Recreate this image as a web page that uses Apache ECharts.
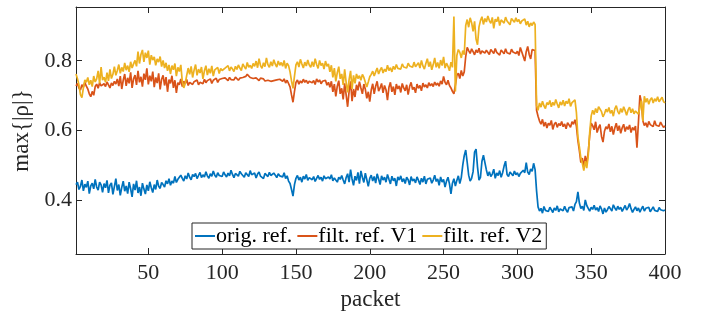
<!DOCTYPE html>
<html>
<head>
<meta charset="utf-8">
<script src="https://cdn.jsdelivr.net/npm/echarts@6/dist/echarts.min.js"></script>
<style>
  html, body { margin: 0; padding: 0; background: #fff; }
  #chart { width: 701px; height: 320px; }
</style>
</head>
<body>
<div id="chart"></div>
<script>
const seriesNames = ['orig. ref.', 'filt. ref. V1', 'filt. ref. V2']
const packetTicks = [50, 100, 150, 200, 250, 300, 350, 400]
const rhoTicks = [0.4, 0.6, 0.8]

// max{|rho|} per packet, packets 1..400
const origRef = [
  0.445,0.452,0.431,0.440,0.458,0.427,0.446,0.437,0.455,0.419,0.441,0.449,0.433,0.460,0.438,0.429,0.452,0.444,0.423,0.448,
  0.436,0.457,0.421,0.443,0.450,0.417,0.439,0.462,0.428,0.445,0.414,0.437,0.455,0.426,0.441,0.419,0.452,0.433,0.410,0.447,
  0.429,0.456,0.421,0.438,0.413,0.449,0.432,0.418,0.444,0.427,0.453,0.436,0.422,0.445,0.431,0.458,0.440,0.434,0.451,0.445,
  0.438,0.456,0.447,0.462,0.443,0.455,0.449,0.468,0.451,0.460,0.457,0.472,0.463,0.455,0.470,0.461,0.478,0.466,0.459,0.474,
  0.468,0.477,0.462,0.471,0.480,0.465,0.473,0.467,0.482,0.470,0.463,0.476,0.469,0.484,0.472,0.466,0.479,0.471,0.475,0.468,
  0.481,0.473,0.467,0.478,0.470,0.486,0.474,0.465,0.477,0.472,0.469,0.483,0.476,0.471,0.466,0.479,0.474,0.468,0.485,0.473,
  0.470,0.478,0.464,0.475,0.481,0.469,0.474,0.462,0.477,0.473,0.468,0.480,0.471,0.466,0.478,0.472,0.465,0.476,0.470,0.474,
  0.467,0.479,0.462,0.470,0.455,0.448,0.431,0.412,0.445,0.463,0.471,0.458,0.466,0.452,0.469,0.461,0.474,0.457,0.465,0.470,
  0.459,0.468,0.454,0.463,0.471,0.460,0.466,0.455,0.470,0.462,0.458,0.467,0.461,0.473,0.456,0.464,0.469,0.452,0.466,0.460,
  0.471,0.458,0.447,0.465,0.476,0.452,0.488,0.461,0.443,0.469,0.457,0.480,0.448,0.484,0.466,0.451,0.478,0.459,0.440,0.463,
  0.472,0.455,0.468,0.449,0.476,0.461,0.445,0.470,0.458,0.466,0.452,0.474,0.460,0.447,0.469,0.456,0.463,0.441,0.467,0.458,
  0.470,0.453,0.462,0.448,0.466,0.459,0.444,0.468,0.455,0.461,0.450,0.467,0.457,0.445,0.463,0.452,0.469,0.447,0.460,0.456,
  0.464,0.449,0.458,0.472,0.454,0.461,0.443,0.467,0.452,0.460,0.438,0.455,0.466,0.447,0.418,0.449,0.462,0.441,0.457,0.470,
  0.448,0.465,0.501,0.528,0.544,0.509,0.472,0.455,0.463,0.482,0.538,0.547,0.495,0.458,0.466,0.512,0.529,0.534,0.487,0.470,
  0.482,0.468,0.475,0.489,0.463,0.478,0.471,0.485,0.466,0.479,0.498,0.512,0.474,0.468,0.481,0.476,0.470,0.484,0.473,0.479,
  0.468,0.477,0.472,0.486,0.479,0.508,0.481,0.474,0.490,0.483,0.506,0.488,0.427,0.381,0.369,0.377,0.363,0.382,0.371,0.376,
  0.368,0.380,0.373,0.365,0.378,0.371,0.384,0.367,0.375,0.379,0.370,0.383,0.372,0.366,0.379,0.374,0.381,0.369,0.388,0.396,
  0.424,0.392,0.376,0.383,0.371,0.401,0.385,0.377,0.369,0.380,0.374,0.386,0.372,0.379,0.368,0.384,0.375,0.361,0.378,0.366,
  0.373,0.382,0.376,0.369,0.387,0.378,0.371,0.383,0.374,0.380,0.368,0.377,0.385,0.372,0.379,0.391,0.376,0.365,0.374,0.381,
  0.370,0.378,0.366,0.375,0.383,0.369,0.377,0.372,0.380,0.367,0.374,0.381,0.371,0.376,0.368,0.379,0.373,0.377,0.370,0.372
]

const filtV1 = [
  0.728,0.735,0.722,0.716,0.731,0.724,0.738,0.727,0.719,0.705,0.697,0.712,0.701,0.726,0.733,0.721,0.737,0.728,0.724,0.734,
  0.726,0.739,0.731,0.722,0.736,0.729,0.741,0.733,0.748,0.727,0.756,0.719,0.744,0.762,0.728,0.751,0.735,0.767,0.722,0.748,
  0.759,0.731,0.771,0.738,0.754,0.726,0.763,0.745,0.778,0.732,0.757,0.741,0.769,0.724,0.752,0.736,0.764,0.718,0.747,0.758,
  0.729,0.753,0.711,0.746,0.735,0.757,0.722,0.744,0.708,0.737,0.731,0.748,0.726,0.741,0.734,0.746,0.729,0.738,0.743,0.732,
  0.740,0.736,0.745,0.731,0.738,0.742,0.734,0.747,0.737,0.743,0.739,0.748,0.735,0.744,0.741,0.750,0.738,0.746,0.742,0.749,
  0.744,0.751,0.747,0.743,0.752,0.746,0.749,0.745,0.753,0.748,0.744,0.750,0.746,0.752,0.748,0.755,0.761,0.764,0.752,0.747,
  0.749,0.744,0.751,0.746,0.743,0.750,0.745,0.748,0.742,0.747,0.744,0.749,0.741,0.746,0.743,0.748,0.745,0.740,0.747,0.744,
  0.741,0.748,0.736,0.744,0.739,0.725,0.702,0.681,0.712,0.738,0.745,0.733,0.742,0.736,0.747,0.738,0.744,0.735,0.741,0.746,
  0.737,0.743,0.732,0.748,0.739,0.745,0.734,0.741,0.736,0.744,0.730,0.738,0.724,0.741,0.711,0.733,0.698,0.727,0.743,0.705,
  0.721,0.689,0.735,0.702,0.668,0.712,0.741,0.684,0.719,0.696,0.731,0.715,0.740,0.722,0.705,0.733,0.718,0.692,0.711,0.683,
  0.716,0.734,0.705,0.727,0.741,0.713,0.722,0.735,0.708,0.729,0.717,0.687,0.724,0.738,0.711,0.726,0.702,0.733,0.719,0.728,
  0.709,0.735,0.722,0.714,0.731,0.703,0.726,0.738,0.717,0.724,0.708,0.733,0.721,0.729,0.714,0.736,0.725,0.731,0.722,0.737,
  0.728,0.734,0.726,0.739,0.730,0.736,0.727,0.742,0.733,0.755,0.738,0.731,0.744,0.729,0.722,0.712,0.705,0.731,0.758,0.764,
  0.749,0.772,0.756,0.768,0.812,0.838,0.829,0.821,0.834,0.826,0.817,0.831,0.823,0.836,0.819,0.828,0.833,0.822,0.830,0.825,
  0.818,0.832,0.827,0.821,0.835,0.824,0.829,0.816,0.831,0.826,0.820,0.834,0.823,0.828,0.819,0.833,0.825,0.830,0.821,0.827,
  0.815,0.838,0.843,0.812,0.799,0.826,0.841,0.818,0.805,0.832,0.836,0.829,0.658,0.641,0.627,0.618,0.632,0.612,0.624,0.607,
  0.621,0.615,0.629,0.603,0.618,0.624,0.609,0.620,0.614,0.626,0.611,0.619,0.605,0.622,0.616,0.609,0.625,0.618,0.631,0.612,
  0.571,0.542,0.508,0.521,0.496,0.527,0.503,0.538,0.586,0.621,0.614,0.602,0.625,0.594,0.608,0.617,0.583,0.567,0.598,0.611,
  0.604,0.619,0.596,0.612,0.588,0.607,0.621,0.599,0.614,0.592,0.608,0.618,0.597,0.611,0.603,0.616,0.594,0.609,0.601,0.613,
  0.551,0.623,0.701,0.682,0.628,0.614,0.622,0.609,0.626,0.617,0.621,0.611,0.628,0.615,0.620,0.612,0.624,0.616,0.609,0.613
]

const filtV2 = [
  0.762,0.748,0.731,0.703,0.694,0.722,0.745,0.738,0.752,0.731,0.744,0.726,0.756,0.739,0.748,0.771,0.735,0.782,0.744,0.753,
  0.738,0.766,0.742,0.775,0.749,0.761,0.783,0.758,0.772,0.789,0.764,0.781,0.769,0.794,0.773,0.786,0.768,0.797,0.779,0.791,
  0.801,0.784,0.826,0.792,0.818,0.831,0.797,0.823,0.808,0.829,0.789,0.816,0.802,0.811,0.787,0.805,0.796,0.812,0.783,0.801,
  0.779,0.794,0.771,0.788,0.762,0.786,0.774,0.792,0.756,0.781,0.769,0.788,0.741,0.722,0.735,0.758,0.779,0.761,0.784,0.752,
  0.773,0.789,0.758,0.776,0.765,0.782,0.748,0.771,0.786,0.759,0.777,0.764,0.785,0.756,0.774,0.769,0.781,0.763,0.778,0.772,
  0.767,0.779,0.774,0.786,0.771,0.782,0.776,0.769,0.784,0.775,0.788,0.779,0.772,0.791,0.783,0.776,0.795,0.781,0.787,0.778,
  0.792,0.784,0.799,0.780,0.806,0.786,0.778,0.794,0.783,0.808,0.789,0.781,0.797,0.785,0.803,0.790,0.782,0.799,0.787,0.795,
  0.784,0.801,0.778,0.793,0.786,0.768,0.742,0.721,0.756,0.788,0.797,0.782,0.804,0.791,0.779,0.796,0.785,0.802,0.788,0.781,
  0.797,0.783,0.806,0.789,0.778,0.801,0.786,0.793,0.776,0.799,0.784,0.791,0.768,0.787,0.752,0.779,0.741,0.766,0.783,0.748,
  0.762,0.731,0.775,0.738,0.709,0.746,0.771,0.719,0.758,0.735,0.762,0.749,0.757,0.744,0.761,0.752,0.748,0.725,0.739,0.754,
  0.761,0.770,0.756,0.768,0.779,0.762,0.773,0.781,0.765,0.776,0.769,0.787,0.772,0.780,0.768,0.784,0.775,0.789,0.778,0.783,
  0.776,0.791,0.782,0.787,0.779,0.793,0.785,0.790,0.781,0.796,0.783,0.788,0.794,0.779,0.801,0.785,0.776,0.792,0.806,0.783,
  0.797,0.774,0.789,0.808,0.781,0.795,0.778,0.802,0.786,0.811,0.779,0.793,0.784,0.771,0.796,0.781,0.927,0.712,0.815,0.832,
  0.824,0.808,0.829,0.817,0.901,0.918,0.896,0.923,0.909,0.884,0.913,0.862,0.846,0.897,0.915,0.926,0.904,0.921,0.911,0.928,
  0.915,0.907,0.924,0.893,0.919,0.912,0.926,0.901,0.917,0.922,0.908,0.925,0.914,0.919,0.903,0.921,0.916,0.910,0.923,0.912,
  0.918,0.906,0.914,0.909,0.920,0.902,0.913,0.897,0.908,0.901,0.911,0.904,0.672,0.658,0.679,0.667,0.684,0.671,0.663,0.680,
  0.674,0.686,0.668,0.681,0.672,0.689,0.676,0.665,0.682,0.673,0.687,0.670,0.684,0.677,0.691,0.669,0.680,0.675,0.688,0.651,
  0.582,0.553,0.521,0.506,0.485,0.512,0.492,0.528,0.595,0.642,0.658,0.646,0.663,0.651,0.668,0.672,0.654,0.639,0.648,0.661,
  0.653,0.666,0.649,0.658,0.641,0.662,0.671,0.655,0.647,0.663,0.652,0.668,0.657,0.644,0.659,0.667,0.651,0.662,0.648,0.656,
  0.659,0.647,0.664,0.686,0.627,0.698,0.681,0.692,0.675,0.688,0.694,0.679,0.691,0.684,0.697,0.682,0.689,0.695,0.683,0.679
]

const FONT = 'Liberation Serif'
const AXIS_COLOR = '#262626'
const colors = ['#0072BD', '#D95319', '#EDB120']

const toPoints = (arr) => arr.map((v, i) => [i + 1, v])

const xAxisBase = (pos, showLabel) => ({
  type: 'value',
  position: pos,
  min: 1,
  max: 400,
  axisLine: { show: true, onZero: false, lineStyle: { color: AXIS_COLOR, width: 1 } },
  axisTick: { show: true, inside: true, length: 6, customValues: packetTicks, lineStyle: { color: AXIS_COLOR } },
  axisLabel: { show: showLabel, customValues: packetTicks, color: AXIS_COLOR, fontFamily: FONT, fontSize: 22, margin: 8 },
  splitLine: { show: false }
})

const yAxisBase = (pos, showLabel) => ({
  type: 'value',
  position: pos,
  min: 0.246,
  max: 0.954,
  axisLine: { show: true, onZero: false, lineStyle: { color: AXIS_COLOR, width: 1 } },
  axisTick: { show: true, inside: true, length: 6, customValues: rhoTicks, lineStyle: { color: AXIS_COLOR } },
  axisLabel: {
    show: showLabel, customValues: rhoTicks, color: AXIS_COLOR, fontFamily: FONT, fontSize: 22, margin: 4,
    formatter: (v) => v.toFixed(1)
  },
  splitLine: { show: false }
})

const chart = echarts.init(document.getElementById('chart'), null, { renderer: 'canvas' })

const bottomX = xAxisBase('bottom', true)
bottomX.name = 'packet'
bottomX.nameLocation = 'middle'
bottomX.nameGap = 32
bottomX.nameTextStyle = { color: AXIS_COLOR, fontFamily: FONT, fontSize: 23 }

const leftY = yAxisBase('left', true)
leftY.name = 'max{|ρ|}'
leftY.nameLocation = 'middle'
leftY.nameGap = 33
leftY.nameTextStyle = { color: AXIS_COLOR, fontFamily: FONT, fontSize: 23 }

chart.setOption({
  animation: false,
  color: colors,
  grid: { left: 76, right: 36, top: 7, bottom: 66 },
  xAxis: [bottomX, xAxisBase('top', false)],
  yAxis: [leftY, yAxisBase('right', false)],
  legend: {
    left: 192,
    top: 223,
    orient: 'horizontal',
    icon: 'rect',
    itemWidth: 20,
    itemHeight: 2,
    itemGap: 5,
    padding: [2, 4, 2, 3],
    backgroundColor: '#fff',
    borderColor: AXIS_COLOR,
    borderWidth: 1,
    borderRadius: 0,
    textStyle: { color: '#000', fontFamily: FONT, fontSize: 22, padding: [0, 0, 0, -4] },
    data: seriesNames
  },
  series: [origRef, filtV1, filtV2].map((arr, k) => ({
    name: seriesNames[k],
    type: 'line',
    xAxisIndex: 0,
    yAxisIndex: 0,
    showSymbol: false,
    symbol: 'none',
    lineStyle: { width: 1.7, color: colors[k] },
    itemStyle: { color: colors[k] },
    data: toPoints(arr),
    z: 2 + k
  }))
})
</script>
</body>
</html>
